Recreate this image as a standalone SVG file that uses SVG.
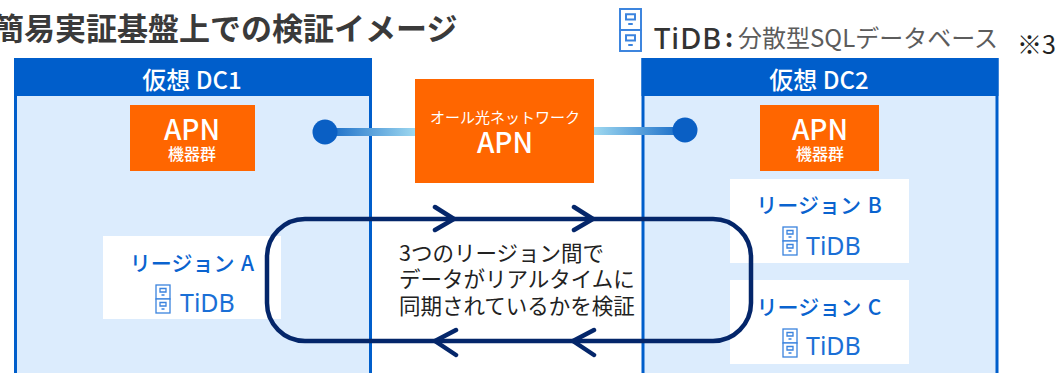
<svg xmlns="http://www.w3.org/2000/svg" width="1059" height="373" viewBox="0 0 1059 373">
<style>
text{font-family:"Noto Sans CJK JP","Noto Sans",sans-serif;}
.c{text-anchor:middle}
.w{fill:#fff}
.r{fill:#0a63cf;font-size:21px;font-weight:500}
.t{fill:#1a6fd6;font-size:25px;font-family:"Noto Sans","Noto Sans CJK JP",sans-serif}
.dc{fill:#dcecfd;stroke:#005ecb;stroke-width:3}
.hd{fill:#005ecb}
.o{fill:#ff6600}
.rg{fill:#fff}
.loop{fill:none;stroke:#04266a;stroke-width:4.5;stroke-linecap:round;stroke-linejoin:miter}
.ic rect{fill:#fff;stroke:#3a83de;stroke-width:1.3}
.ic path{fill:none;stroke:#3a83de;stroke-width:1.3}
</style>
<defs>
<linearGradient id="g1" gradientUnits="userSpaceOnUse" x1="313" y1="0" x2="416" y2="0"><stop offset="0" stop-color="#0058c0"/><stop offset="1" stop-color="#9fd9f0"/></linearGradient>
<linearGradient id="g2" gradientUnits="userSpaceOnUse" x1="697" y1="0" x2="594" y2="0"><stop offset="0" stop-color="#0058c0"/><stop offset="1" stop-color="#9fd9f0"/></linearGradient>
<g id="db" class="ic">
<rect x="0" y="0" width="14" height="14"/><rect x="0" y="14" width="14" height="14"/>
<path d="M4 3.500h6v3.500h-6zM5.500 10h3M4 17.500h6v3.500h-6zM5.500 24h3"/>
</g>
</defs>
<text id="title" x="-7" y="40" font-size="31" font-weight="700" fill="#3a3a3a">簡易実証基盤上での検証イメージ</text>
<g id="legend">
<use href="#db" transform="translate(620 9) scale(1.5)"/>
<text x="654" y="49" font-size="29" font-weight="500" fill="#333" style="font-family:'Noto Sans','Noto Sans CJK JP',sans-serif" letter-spacing="1">TiDB</text>
<text x="725" y="47" font-size="25" font-weight="700" fill="#333">:</text>
<text x="738" y="47" font-size="24" fill="#5c5c5c" textLength="260" lengthAdjust="spacingAndGlyphs">分散型SQLデータベース</text>
<text x="1017" y="54" font-size="25" fill="#222">※3</text>
</g>
<g id="dc1">
<rect class="dc" x="15.500" y="59.500" width="355" height="330"/>
<rect class="hd" x="14" y="58" width="358" height="38"/>
<text class="c w" x="192" y="89" font-size="24" font-weight="500">仮想 DC1</text>
</g>
<g id="dc2">
<rect class="dc" x="643" y="59.500" width="354" height="330"/>
<rect class="hd" x="641.500" y="58" width="357" height="38"/>
<text class="c w" x="819" y="89" font-size="24" font-weight="500">仮想 DC2</text>
</g>
<g id="apn1">
<rect class="o" x="130" y="105" width="125" height="66"/>
<text class="c w" x="192" y="140" font-size="28" font-weight="500">APN</text>
<text class="c w" x="192" y="160" font-size="16" font-weight="500">機器群</text>
</g>
<g id="apn2">
<rect class="o" x="760" y="105" width="119" height="66"/>
<text class="c w" x="820" y="140" font-size="28" font-weight="500">APN</text>
<text class="c w" x="820" y="160" font-size="16" font-weight="500">機器群</text>
</g>
<g id="connectors">
<rect x="325" y="128" width="91" height="8" fill="url(#g1)"/>
<circle cx="325" cy="132" r="12.500" fill="#0a5fc4"/>
<rect x="594" y="127" width="92" height="8" fill="url(#g2)"/>
<circle cx="685" cy="130" r="12.500" fill="#0a5fc4"/>
</g>
<g id="apn-center">
<rect class="o" x="415" y="79" width="179" height="104"/>
<text class="c w" x="505" y="123" font-size="15" font-weight="400">オール光ネットワーク</text>
<text class="c w" x="505" y="153" font-size="28" font-weight="500">APN</text>
</g>
<g id="region-a">
<rect class="rg" x="103" y="236" width="178" height="83"/>
<text class="c r" x="192" y="271" word-spacing="2">リージョン A</text>
<use href="#db" transform="translate(156 285)"/>
<text class="t" x="180" y="312">TiDB</text>
</g>
<g id="region-b">
<rect class="rg" x="730" y="179" width="179" height="84"/>
<text class="c r" x="819" y="213" word-spacing="2">リージョン B</text>
<use href="#db" transform="translate(783 227)"/>
<text class="t" x="806" y="255">TiDB</text>
</g>
<g id="region-c">
<rect class="rg" x="730" y="280" width="179" height="84"/>
<text class="c r" x="819" y="315" word-spacing="2">リージョン C</text>
<use href="#db" transform="translate(783 329)"/>
<text class="t" x="806" y="355">TiDB</text>
</g>
<g id="loop">
<path class="loop" d="M305 219H713a38 38 0 0 1 38 38V303a38 38 0 0 1 -38 38H305a38 38 0 0 1 -38 -38V257a38 38 0 0 1 38 -38z"/>
<path class="loop" d="M435 207L454 219L435 230M574 207L593 219L574 230M456 330L435 341L456 355M594 330L573 341L594 355"/>
</g>
<g id="note" font-size="21.500" fill="#222" font-weight="400">
<text x="399" y="261">3つのリージョン間で</text>
<text x="399" y="287">データがリアルタイムに</text>
<text x="399" y="314">同期されているかを検証</text>
</g>
</svg>
